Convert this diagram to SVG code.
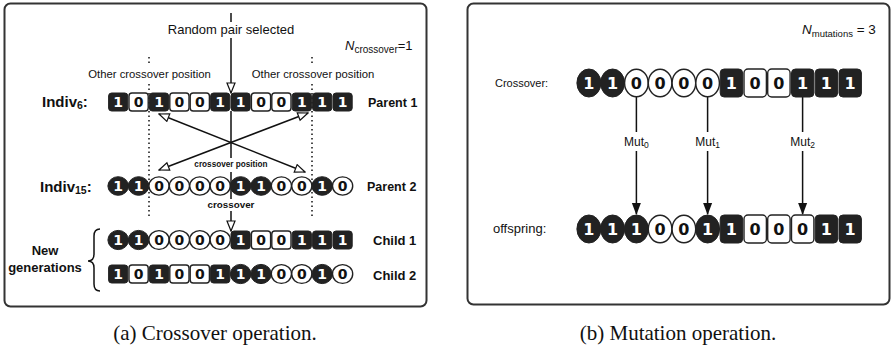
<svg xmlns="http://www.w3.org/2000/svg" width="895" height="354" viewBox="0 0 895 354">
  <style>
    .panel { fill: #fff; stroke: #333; stroke-width: 2; }
    .dk { fill: #222; stroke: #222; stroke-width: 1; }
    .lt { fill: #fff; stroke: #222; stroke-width: 1.4; }
    .d1 { fill: #fff; font-family: "DejaVu Sans", "Liberation Sans", sans-serif; font-weight: 700; text-anchor: middle; }
    .d0 { fill: #111; font-family: "DejaVu Sans", "Liberation Sans", sans-serif; font-weight: 700; text-anchor: middle; }
    .sm { font-size: 14px; }
    .lg { font-size: 16px; }
    .lbl { font-family: "Liberation Sans", Arial, sans-serif; fill: #111; }
    .b { font-weight: 700; }
    .ln { stroke: #111; stroke-width: 1.5; fill: none; }
    .dot { stroke: #111; stroke-width: 1.5; fill: none; stroke-dasharray: 1.5 3; }
    .cap { font-family: "Liberation Serif", "Times New Roman", serif; font-size: 21px; fill: #111; text-anchor: middle; }
  </style>
  <defs>
    <marker id="open" viewBox="0 0 12 10" refX="11" refY="5" markerWidth="12" markerHeight="10" markerUnits="userSpaceOnUse" orient="auto-start-reverse">
      <path d="M1 1 L11 5 L1 9 Z" fill="#fff" stroke="#111" stroke-width="1.2"/>
    </marker>
    <marker id="solid" viewBox="0 0 12 10" refX="11" refY="5" markerWidth="12" markerHeight="10" markerUnits="userSpaceOnUse" orient="auto">
      <path d="M0 0.5 L12 5 L0 9.5 Z" fill="#111"/>
    </marker>
  </defs>

  <rect width="895" height="354" fill="#fff"/>

  <!-- panel frames -->
  <rect id="panel-a" class="panel" x="4.5" y="3.5" width="422" height="303" rx="6"/>
  <rect id="panel-b" class="panel" x="467.5" y="3.5" width="422" height="301" rx="6"/>

  <!-- ===== (a) crossover ===== -->
  <g id="labels-a" class="lbl">
    <text x="231" y="34" font-size="13" text-anchor="middle">Random pair selected</text>
    <text x="345" y="50" font-size="13"><tspan font-style="italic">N</tspan><tspan font-size="10" dy="3">crossover</tspan><tspan dy="-3">=1</tspan></text>
    <text x="149.5" y="78" font-size="11.3" text-anchor="middle">Other crossover position</text>
    <text x="313" y="78" font-size="11.3" text-anchor="middle">Other crossover position</text>
    <text x="231" y="167" font-size="8.2" class="b" text-anchor="middle">crossover position</text>
    <text x="231" y="208" font-size="9.8" class="b" text-anchor="middle">crossover</text>
    <text x="45" y="255" font-size="13" class="b" text-anchor="middle">New</text>
    <text x="45" y="272" font-size="13" class="b" text-anchor="middle">generations</text>
  </g>

  <g id="connectors-a">
    <!-- dotted guides at the other crossover positions -->
    <path class="dot" d="M149 57 V66 M149 84 V218"/>
    <path class="dot" d="M312 57 V66 M312 84 V218"/>
    <!-- selected pair arrow -->
    <path class="ln" d="M231 13 V22"/>
    <path class="ln" d="M231 38 V93" marker-end="url(#open)"/>
    <!-- crossover position line -->
    <path class="ln" d="M231 111 V158 M231 172 V199"/>
    <path class="ln" d="M231 211 V231" marker-end="url(#open)"/>
    <!-- exchange arrows -->
    <path class="ln" d="M159 114 L305 172" marker-start="url(#open)" marker-end="url(#open)"/>
    <path class="ln" d="M308 113 L159 170" marker-start="url(#open)" marker-end="url(#open)"/>
    <!-- brace -->
    <path class="ln" d="M100 229 Q94 229 94 236 L94 254 Q94 261 88 261 Q94 261 94 268 L94 284 Q94 291 100 291"/>
  </g>

  <g id="indiv6">
    <text class="lbl b" x="42" y="107" font-size="15">Indiv<tspan font-size="10.5" dy="2">6</tspan><tspan dy="-2">:</tspan></text>
    <rect class="dk" x="108.6" y="93" width="19.2" height="18" rx="3"/>
    <rect class="lt" x="129" y="93" width="19.2" height="18" rx="3"/>
    <rect class="dk" x="149.4" y="93" width="19.2" height="18" rx="3"/>
    <rect class="lt" x="169.8" y="93" width="19.2" height="18" rx="3"/>
    <rect class="lt" x="190.2" y="93" width="19.2" height="18" rx="3"/>
    <rect class="dk" x="210.6" y="93" width="19.2" height="18" rx="3"/>
    <rect class="dk" x="231" y="93" width="19.2" height="18" rx="3"/>
    <rect class="lt" x="251.4" y="93" width="19.2" height="18" rx="3"/>
    <rect class="lt" x="271.8" y="93" width="19.2" height="18" rx="3"/>
    <rect class="dk" x="292.2" y="93" width="19.2" height="18" rx="3"/>
    <rect class="dk" x="312.6" y="93" width="19.2" height="18" rx="3"/>
    <rect class="dk" x="333" y="93" width="19.2" height="18" rx="3"/>
    <text class="d1 sm" x="118.2" y="107">1</text>
    <text class="d0 sm" x="138.6" y="107">0</text>
    <text class="d1 sm" x="159" y="107">1</text>
    <text class="d0 sm" x="179.4" y="107">0</text>
    <text class="d0 sm" x="199.8" y="107">0</text>
    <text class="d1 sm" x="220.2" y="107">1</text>
    <text class="d1 sm" x="240.6" y="107">1</text>
    <text class="d0 sm" x="261" y="107">0</text>
    <text class="d0 sm" x="281.4" y="107">0</text>
    <text class="d1 sm" x="301.8" y="107">1</text>
    <text class="d1 sm" x="322.2" y="107">1</text>
    <text class="d1 sm" x="342.6" y="107">1</text>
    <text class="lbl b" x="368" y="107" font-size="12.5">Parent 1</text>
  </g>

  <g id="indiv15">
    <text class="lbl b" x="40" y="192" font-size="15">Indiv<tspan font-size="10.5" dy="2">15</tspan><tspan dy="-2">:</tspan></text>
    <ellipse class="dk" cx="118.2" cy="186" rx="10.3" ry="9.3"/>
    <ellipse class="dk" cx="138.6" cy="186" rx="10.3" ry="9.3"/>
    <ellipse class="lt" cx="159" cy="186" rx="10.1" ry="9.1"/>
    <ellipse class="lt" cx="179.4" cy="186" rx="10.1" ry="9.1"/>
    <ellipse class="lt" cx="199.8" cy="186" rx="10.1" ry="9.1"/>
    <ellipse class="lt" cx="220.2" cy="186" rx="10.1" ry="9.1"/>
    <ellipse class="dk" cx="240.6" cy="186" rx="10.3" ry="9.3"/>
    <ellipse class="dk" cx="261" cy="186" rx="10.3" ry="9.3"/>
    <ellipse class="lt" cx="281.4" cy="186" rx="10.1" ry="9.1"/>
    <ellipse class="lt" cx="301.8" cy="186" rx="10.1" ry="9.1"/>
    <ellipse class="dk" cx="322.2" cy="186" rx="10.3" ry="9.3"/>
    <ellipse class="lt" cx="342.6" cy="186" rx="10.1" ry="9.1"/>
    <text class="d1 sm" x="118.2" y="191">1</text>
    <text class="d1 sm" x="138.6" y="191">1</text>
    <text class="d0 sm" x="159" y="191">0</text>
    <text class="d0 sm" x="179.4" y="191">0</text>
    <text class="d0 sm" x="199.8" y="191">0</text>
    <text class="d0 sm" x="220.2" y="191">0</text>
    <text class="d1 sm" x="240.6" y="191">1</text>
    <text class="d1 sm" x="261" y="191">1</text>
    <text class="d0 sm" x="281.4" y="191">0</text>
    <text class="d0 sm" x="301.8" y="191">0</text>
    <text class="d1 sm" x="322.2" y="191">1</text>
    <text class="d0 sm" x="342.6" y="191">0</text>
    <text class="lbl b" x="367" y="191" font-size="12.5">Parent 2</text>
  </g>

  <g id="child1">
    <ellipse class="dk" cx="118.2" cy="240" rx="10.3" ry="9.6"/>
    <ellipse class="dk" cx="138.6" cy="240" rx="10.3" ry="9.6"/>
    <ellipse class="lt" cx="159" cy="240" rx="10.1" ry="9.4"/>
    <ellipse class="lt" cx="179.4" cy="240" rx="10.1" ry="9.4"/>
    <ellipse class="lt" cx="199.8" cy="240" rx="10.1" ry="9.4"/>
    <ellipse class="lt" cx="220.2" cy="240" rx="10.1" ry="9.4"/>
    <rect class="dk" x="231" y="231" width="19.2" height="18" rx="3"/>
    <rect class="lt" x="251.4" y="231" width="19.2" height="18" rx="3"/>
    <rect class="lt" x="271.8" y="231" width="19.2" height="18" rx="3"/>
    <rect class="dk" x="292.2" y="231" width="19.2" height="18" rx="3"/>
    <rect class="dk" x="312.6" y="231" width="19.2" height="18" rx="3"/>
    <rect class="dk" x="333" y="231" width="19.2" height="18" rx="3"/>
    <text class="d1 sm" x="118.2" y="245">1</text>
    <text class="d1 sm" x="138.6" y="245">1</text>
    <text class="d0 sm" x="159" y="245">0</text>
    <text class="d0 sm" x="179.4" y="245">0</text>
    <text class="d0 sm" x="199.8" y="245">0</text>
    <text class="d0 sm" x="220.2" y="245">0</text>
    <text class="d1 sm" x="240.6" y="245">1</text>
    <text class="d0 sm" x="261" y="245">0</text>
    <text class="d0 sm" x="281.4" y="245">0</text>
    <text class="d1 sm" x="301.8" y="245">1</text>
    <text class="d1 sm" x="322.2" y="245">1</text>
    <text class="d1 sm" x="342.6" y="245">1</text>
    <text class="lbl b" x="373" y="245" font-size="13">Child 1</text>
  </g>

  <g id="child2">
    <rect class="dk" x="108.6" y="265" width="19.2" height="18" rx="3"/>
    <rect class="lt" x="129" y="265" width="19.2" height="18" rx="3"/>
    <rect class="dk" x="149.4" y="265" width="19.2" height="18" rx="3"/>
    <rect class="lt" x="169.8" y="265" width="19.2" height="18" rx="3"/>
    <rect class="lt" x="190.2" y="265" width="19.2" height="18" rx="3"/>
    <rect class="dk" x="210.6" y="265" width="19.2" height="18" rx="3"/>
    <ellipse class="dk" cx="240.6" cy="274" rx="10.3" ry="9.6"/>
    <ellipse class="dk" cx="261" cy="274" rx="10.3" ry="9.6"/>
    <ellipse class="lt" cx="281.4" cy="274" rx="10.1" ry="9.4"/>
    <ellipse class="lt" cx="301.8" cy="274" rx="10.1" ry="9.4"/>
    <ellipse class="dk" cx="322.2" cy="274" rx="10.3" ry="9.6"/>
    <ellipse class="lt" cx="342.6" cy="274" rx="10.1" ry="9.4"/>
    <text class="d1 sm" x="118.2" y="279">1</text>
    <text class="d0 sm" x="138.6" y="279">0</text>
    <text class="d1 sm" x="159" y="279">1</text>
    <text class="d0 sm" x="179.4" y="279">0</text>
    <text class="d0 sm" x="199.8" y="279">0</text>
    <text class="d1 sm" x="220.2" y="279">1</text>
    <text class="d1 sm" x="240.6" y="279">1</text>
    <text class="d1 sm" x="261" y="279">1</text>
    <text class="d0 sm" x="281.4" y="279">0</text>
    <text class="d0 sm" x="301.8" y="279">0</text>
    <text class="d1 sm" x="322.2" y="279">1</text>
    <text class="d0 sm" x="342.6" y="279">0</text>
    <text class="lbl b" x="373" y="280" font-size="13">Child 2</text>
  </g>

  <!-- ===== (b) mutation ===== -->
  <g id="labels-b" class="lbl">
    <text x="802" y="34" font-size="13.5"><tspan font-style="italic">N</tspan><tspan font-size="9.5" dy="3">mutations</tspan><tspan dy="-3"> = 3</tspan></text>
    <text x="636.4" y="146" font-size="12" text-anchor="middle">Mut<tspan font-size="8.5" dy="2">0</tspan></text>
    <text x="707.6" y="146" font-size="12" text-anchor="middle">Mut<tspan font-size="8.5" dy="2">1</tspan></text>
    <text x="802.6" y="146" font-size="12" text-anchor="middle">Mut<tspan font-size="8.5" dy="2">2</tspan></text>
  </g>

  <g id="connectors-b">
    <path class="ln" d="M636.4 97 V132 M707.6 97 V132 M802.6 97 V132"/>
    <path class="ln" d="M636.4 151 V214" marker-end="url(#solid)"/>
    <path class="ln" d="M707.6 151 V214" marker-end="url(#solid)"/>
    <path class="ln" d="M802.6 151 V214" marker-end="url(#solid)"/>
  </g>

  <g id="crossover-row">
    <text class="lbl" x="495" y="87" font-size="11">Crossover:</text>
    <ellipse class="dk" cx="588.9" cy="83" rx="12" ry="14"/>
    <ellipse class="dk" cx="612.6" cy="83" rx="12" ry="14"/>
    <ellipse class="lt" cx="636.4" cy="83" rx="11.8" ry="13.8"/>
    <ellipse class="lt" cx="660.1" cy="83" rx="11.8" ry="13.8"/>
    <ellipse class="lt" cx="683.9" cy="83" rx="11.8" ry="13.8"/>
    <ellipse class="lt" cx="707.6" cy="83" rx="11.8" ry="13.8"/>
    <rect class="dk" x="720.2" y="69" width="22.4" height="28" rx="4"/>
    <rect class="lt" x="744" y="69" width="22.4" height="28" rx="4"/>
    <rect class="lt" x="767.7" y="69" width="22.4" height="28" rx="4"/>
    <rect class="dk" x="791.5" y="69" width="22.4" height="28" rx="4"/>
    <rect class="dk" x="815.2" y="69" width="22.4" height="28" rx="4"/>
    <rect class="dk" x="839" y="69" width="22.4" height="28" rx="4"/>
    <text class="d1 lg" x="588.9" y="89">1</text>
    <text class="d1 lg" x="612.6" y="89">1</text>
    <text class="d0 lg" x="636.4" y="89">0</text>
    <text class="d0 lg" x="660.1" y="89">0</text>
    <text class="d0 lg" x="683.9" y="89">0</text>
    <text class="d0 lg" x="707.6" y="89">0</text>
    <text class="d1 lg" x="731.4" y="89">1</text>
    <text class="d0 lg" x="755.1" y="89">0</text>
    <text class="d0 lg" x="778.9" y="89">0</text>
    <text class="d1 lg" x="802.6" y="89">1</text>
    <text class="d1 lg" x="826.4" y="89">1</text>
    <text class="d1 lg" x="850.1" y="89">1</text>
  </g>

  <g id="offspring-row">
    <text class="lbl" x="493" y="233" font-size="13">offspring:</text>
    <ellipse class="dk" cx="588.9" cy="229" rx="12" ry="14"/>
    <ellipse class="dk" cx="612.6" cy="229" rx="12" ry="14"/>
    <ellipse class="dk" cx="636.4" cy="229" rx="12" ry="14"/>
    <ellipse class="lt" cx="660.1" cy="229" rx="11.8" ry="13.8"/>
    <ellipse class="lt" cx="683.9" cy="229" rx="11.8" ry="13.8"/>
    <ellipse class="dk" cx="707.6" cy="229" rx="12" ry="14"/>
    <rect class="dk" x="720.2" y="215" width="22.4" height="28" rx="4"/>
    <rect class="lt" x="744" y="215" width="22.4" height="28" rx="4"/>
    <rect class="lt" x="767.7" y="215" width="22.4" height="28" rx="4"/>
    <rect class="lt" x="791.5" y="215" width="22.4" height="28" rx="4"/>
    <rect class="dk" x="815.2" y="215" width="22.4" height="28" rx="4"/>
    <rect class="dk" x="839" y="215" width="22.4" height="28" rx="4"/>
    <text class="d1 lg" x="588.9" y="235">1</text>
    <text class="d1 lg" x="612.6" y="235">1</text>
    <text class="d1 lg" x="636.4" y="235">1</text>
    <text class="d0 lg" x="660.1" y="235">0</text>
    <text class="d0 lg" x="683.9" y="235">0</text>
    <text class="d1 lg" x="707.6" y="235">1</text>
    <text class="d1 lg" x="731.4" y="235">1</text>
    <text class="d0 lg" x="755.1" y="235">0</text>
    <text class="d0 lg" x="778.9" y="235">0</text>
    <text class="d0 lg" x="802.6" y="235">0</text>
    <text class="d1 lg" x="826.4" y="235">1</text>
    <text class="d1 lg" x="850.1" y="235">1</text>
  </g>

  <!-- captions -->
  <text class="cap" x="215" y="340">(a) Crossover operation.</text>
  <text class="cap" x="678" y="340">(b) Mutation operation.</text>
</svg>
